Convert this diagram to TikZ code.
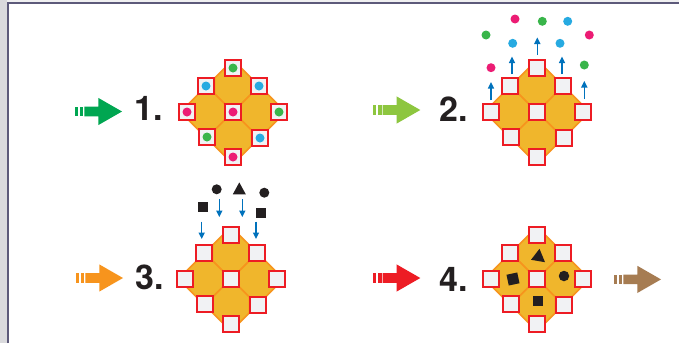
\documentclass[tikz,border=0pt]{standalone}
\usepackage{fontspec}
\setmainfont{TeX Gyre Heros}
\usetikzlibrary{arrows.meta}
\definecolor{octfill}{HTML}{F0B62C}
\definecolor{octline}{HTML}{F7941D}
\definecolor{sqred}{HTML}{ED1C24}
\definecolor{sqfill}{HTML}{F1F2F4}
\definecolor{dgreen}{HTML}{39B54A}
\definecolor{dblue}{HTML}{27AAE1}
\definecolor{dpink}{HTML}{EC1C74}
\definecolor{arrblue}{HTML}{0072BC}
\definecolor{txt}{HTML}{231F20}
\definecolor{agreen}{HTML}{00A651}
\definecolor{alime}{HTML}{8DC63F}
\definecolor{aorange}{HTML}{F7941D}
\definecolor{ared}{HTML}{ED1C24}
\definecolor{abrown}{HTML}{A67C52}
\definecolor{frame}{HTML}{5D5A7A}
\definecolor{strip}{HTML}{DADADD}
\tikzset{
  oct/.style={fill=octfill, draw=octline, line width=1.6pt, line join=miter},
  sq/.style={rectangle, draw=sqred, fill=sqfill, line width=1.8pt, minimum size=16pt, inner sep=0pt},
  ball/.style={circle, fill=#1, minimum size=9pt, inner sep=0pt},
  blk/.style={fill=txt},
  bluearr/.style={draw=arrblue, line width=1.4pt, -{Triangle[length=6.5pt,width=6pt]}},
  numtxt/.style={inner sep=0pt, anchor=base west, text=txt, font=\fontsize{34}{34}\selectfont\bfseries}
}
% octagon: apothem 18.5, half side 7.66
\newcommand{\mkcluster}[3]{%
  \begin{scope}[shift={(#2,#3)}]
    \foreach \ox/\oy in {0/-26, -26.3/0, 26.3/0, 0/26}{%
      \path[oct, shift={(\ox,\oy)}] (7.66,-18.5) -- (18.5,-7.66) -- (18.5,7.66) -- (7.66,18.5) -- (-7.66,18.5) -- (-18.5,7.66) -- (-18.5,-7.66) -- (-7.66,-18.5) -- cycle;
    }
    \foreach \nm/\sx/\sy in {t/0/-44, ul/-27/-26, ur/26/-26, l/-46/0, c/0/0, r/46/0, ll/-26/25, lr/27/26, b/0/45}{%
      \node[sq] (#1\nm) at (\sx,\sy) {};
    }
  \end{scope}}
\newcommand{\bigarrow}[3]{%
  \begin{scope}[shift={(#2,#3)}]
    \fill[#1] (0,-4.8) rectangle (2.8,4.8);
    \fill[#1] (5,-4.8) rectangle (8.4,4.8);
    \fill[#1] (9.4,-4.8) -- (23.3,-4.8) -- (23.3,-13.6) -- (47,0) -- (23.3,13.6) -- (23.3,4.8) -- (9.4,4.8) -- cycle;
  \end{scope}}
\begin{document}
\begin{tikzpicture}[x=1pt,y=-1pt]
\useasboundingbox (0,0) rectangle (679,343);
\fill[white] (0,0) rectangle (679,343);
\fill[strip] (0,0) rectangle (6.5,343);
\fill[strip!40] (6.5,0) rectangle (679,2);
\draw[frame, line width=2pt] (7.5,343) -- (7.5,3) -- (679,3);

% arrows
\bigarrow{agreen}{75}{111.5}
\bigarrow{alime}{373.3}{110}
\bigarrow{aorange}{76}{278}
\bigarrow{ared}{373.3}{278}
\bigarrow{abrown}{614}{279.4}

% numbers
\node[numtxt] (n1) at (134.3,120.7) {1.};
\node[numtxt] (n2) at (439,121.2) {2.};
\node[numtxt] (n3) at (135,289.5) {3.};
\node[numtxt] (n4) at (439,291.8) {4.};

% clusters
\mkcluster{a}{233}{112}
\mkcluster{b}{537}{112}
\mkcluster{c}{231}{279}
\mkcluster{d}{537}{279}

% step 1 dots
\node[ball=dgreen] (d1t) at (at) {};
\node[ball=dblue] (d1ul) at (aul) {};
\node[ball=dblue] (d1ur) at (aur) {};
\node[ball=dpink] (d1l) at (al) {};
\node[ball=dpink] (d1c) at (ac) {};
\node[ball=dgreen] (d1r) at (ar) {};
\node[ball=dgreen] (d1ll) at (all) {};
\node[ball=dblue] (d1lr) at (alr) {};
\node[ball=dpink] (d1b) at (ab) {};

% step 2 dots
\node[ball=dpink] (e1) at (515,19) {};
\node[ball=dgreen] (e2) at (542.3,21.3) {};
\node[ball=dblue] (e3) at (567.7,21.3) {};
\node[ball=dgreen] (e4) at (486,35) {};
\node[ball=dpink] (e5) at (589.3,35) {};
\node[ball=dblue] (e6) at (512.7,43.3) {};
\node[ball=dblue] (e7) at (560,43.3) {};
\node[ball=dpink] (e8) at (491,67.7) {};
\node[ball=dgreen] (e9) at (584.3,65) {};
% step 2 arrows
\draw[bluearr] (537.3,55) -- (537.3,37.5);
\draw[bluearr] (512,74) -- (512,56.5);
\draw[bluearr] (562,74) -- (562,56.5);
\draw[bluearr] (491,100) -- (491,82);
\draw[bluearr] (584.3,99) -- (584.3,81);

% step 3 shapes
\node[circle, blk, minimum size=10pt, inner sep=0pt] (f1) at (216.7,189.3) {};
\fill[txt] (232.8,194.3) -- (239.3,182.4) -- (245.8,194.3) -- cycle;
\node[circle, blk, minimum size=10pt, inner sep=0pt] (f3) at (264.3,192.7) {};
\node[rectangle, blk, minimum size=10pt, inner sep=0pt] (f4) at (202.7,206.7) {};
\node[rectangle, blk, minimum size=10pt, inner sep=0pt] (f5) at (261,212.7) {};
% step 3 arrows
\draw[bluearr] (219.3,199) -- (219.3,217);
\draw[bluearr] (242.3,199) -- (242.3,217);
\draw[bluearr] (201.7,221.5) -- (201.7,239);
\draw[bluearr] (256,221.5) -- (256,239);

% step 4 shapes
\fill[txt] (539.5,248.8) -- (531,259.8) -- (545,262.2) -- cycle;
\node[rectangle, blk, minimum size=11pt, inner sep=0pt, rotate=12] (g2) at (513,279) {};
\node[circle, blk, minimum size=10.5pt, inner sep=0pt] (g3) at (564,276) {};
\node[rectangle, blk, minimum size=10.5pt, inner sep=0pt] (g4) at (538,301) {};
\end{tikzpicture}
\end{document}
